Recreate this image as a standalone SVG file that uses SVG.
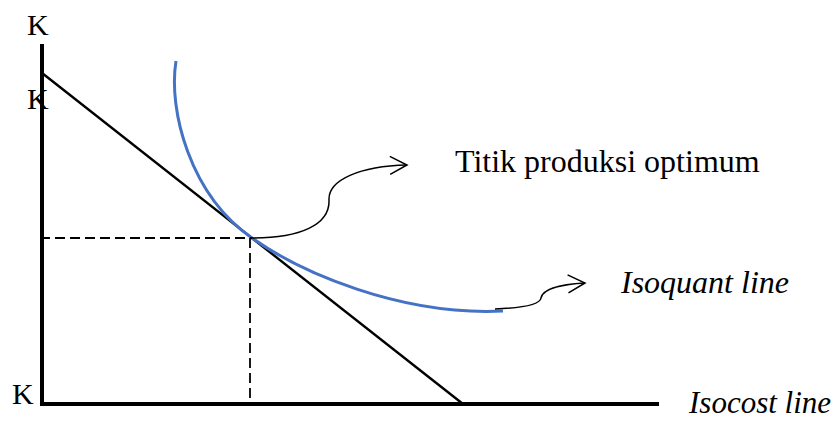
<svg xmlns="http://www.w3.org/2000/svg" width="835" height="421" viewBox="0 0 835 421">
<style>
.t{font-family:"Liberation Serif","Times New Roman",serif;fill:#000}
.i{font-style:italic}
.ax{stroke:#000;stroke-width:4;fill:none}
.ln{stroke:#000;stroke-width:2.4;fill:none}
.ds{stroke:#000;stroke-width:1.8;fill:none;stroke-dasharray:10,5}
.cv{stroke:#000;stroke-width:1.5;fill:none}
</style>
<defs>
<marker id="ah" viewBox="0 0 20 20" refX="18" refY="10" markerWidth="20" markerHeight="20" markerUnits="userSpaceOnUse" orient="auto">
<path d="M1,1 L18,10 L1,19" fill="none" stroke="#000" stroke-width="1.5"/>
</marker>
</defs>
<g id="axes">
<line class="ax" x1="42" y1="44" x2="42" y2="406"/>
<line class="ax" x1="40" y1="404" x2="659" y2="404"/>
</g>
<g id="isocost">
<line class="ln" x1="42" y1="73" x2="463" y2="404"/>
</g>
<g id="isoquant">
<path d="M176,61 C168,110 190,195 252,238 C300,272 400,316 503,311" fill="none" stroke="#4472C4" stroke-width="3"/>
</g>
<g id="guides">
<line class="ds" x1="40" y1="238" x2="252" y2="238"/>
<line class="ds" x1="250" y1="238" x2="250" y2="402"/>
</g>
<g id="connectors">
<path class="cv" d="M252,238 C300,238 330,225 329,200 C328,180 360,166 407,165" marker-end="url(#ah)"/>
<path class="cv" d="M495,309 C520,308 540,305 541,298 C543,288 565,284 585,283" marker-end="url(#ah)"/>
</g>
<g id="labels">
<text class="t" x="27" y="35" font-size="30">K</text>
<text class="t" x="27" y="109" font-size="30">K</text>
<text class="t" x="12" y="404" font-size="30">K</text>
<text class="t" x="455" y="172" font-size="32">Titik produksi optimum</text>
<text class="t i" x="621" y="293" font-size="32">Isoquant line</text>
<text class="t i" x="689" y="413" font-size="31">Isocost line</text>
</g>
</svg>
